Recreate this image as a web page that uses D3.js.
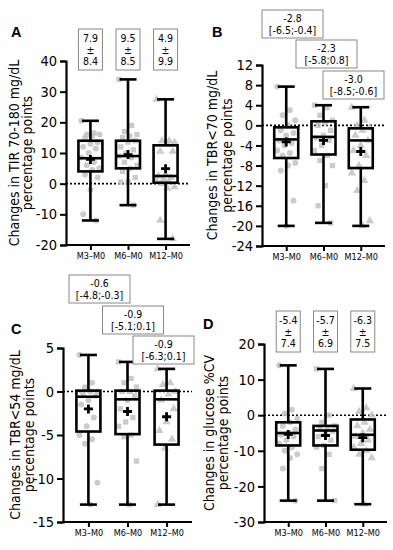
<!DOCTYPE html>
<html>
<head>
<meta charset="utf-8">
<script src="https://cdn.jsdelivr.net/npm/d3@7"></script>
<style>
  body { margin: 0; background: #fff; }
  svg { display: block; }
</style>
</head>
<body>
<div id="viz"></div>
<script>
// categories shared by every panel
var categories = ["M3\u2013M0", "M6\u2013M0", "M12\u2013M0"];

// box stats per category: [min, q1, median, q3, max, mean]
var tirBox   = [[-12, 4, 8.3, 14, 20.5, 7.9], [-7, 5, 9, 14, 34, 9.5], [-18, 0.3, 2.5, 12.5, 27.5, 4.9]];
var tbr70Box = [[-20, -6.5, -2.8, -0.4, 7.7, -3.3], [-19.4, -5.8, -2.3, 0.8, 4, -3.0], [-20, -8.5, -3.0, -0.6, 3.6, -5.2]];
var tbr54Box = [[-13, -4.6, -0.6, 0.1, 4.2, -2.0], [-13, -4.9, -0.9, 0.1, 3.4, -2.3], [-13, -6.1, -0.9, 0.1, 2.6, -2.9]];
var cvBox    = [[-24, -8.5, -5.0, -2.0, 14, -5.4], [-24, -8.5, -4.3, -3.0, 13, -5.7], [-25, -9.7, -5.5, -1.2, 7.5, -6.3]];

// individual points
var tirDots = [
  [20.5, 16.5, 16, 16, 15.5, 15, 13.5, 13, 12, 11.5, 10, 8.5, 7, 6, 5, 4.5, 3, 2, -2, -10, -12],
  [34, 19, 17, 16, 15.5, 15, 14, 13.5, 12, 11, 10, 9, 8.5, 7, 6, 5, 4, 2, 0.5, 0.5, -7],
  [27.5, 14, 14, 13.5, 13, 10.5, 10.5, 3, 2.5, 2, 1.5, 1, 0.5, 0, -1, -1.5, -12, -18]
];
var tbr70Dots = [
  [7.7, 3, 2, 1, 0, -1, -1.5, -2, -3, -3.5, -4, -5, -5.5, -6, -7.5, -8, -9, -15, -20],
  [4, 3.5, 2, 1, 0.5, 0, -1, -2, -2.5, -3, -4, -5, -6, -7, -8, -12, -16, -19.4],
  [3.6, 1, 0, -0.5, -1, -2, -3, -4, -5, -6, -8, -9.5, -11, -13, -19, -20]
];
var tbr54Dots = [
  [4.2, 1, 0.5, 0, 0, -0.2, -0.5, -1, -1.5, -3, -4, -5, -5.5, -6, -10.5, -13],
  [3.4, 1.5, 1, 0.5, 0, 0, -0.5, -1, -2, -3, -3.5, -4, -5, -5.2, -8, -13],
  [2.6, 1, 0.8, 0, -0.3, -1, -2, -3.5, -4.5, -5.5, -6.5, -13]
];
var cvDots = [
  [14, 1.5, 0.5, -1, -2, -3, -4, -5, -5.5, -6, -7, -8, -9, -10, -11, -12, -15, -24],
  [13, 0, -2, -3, -3.5, -4, -4.5, -5, -6, -7, -8.5, -9, -11, -15, -24],
  [7.5, 2, 1, 0, -2, -3, -4, -5, -6, -7, -8, -9, -10, -11, -12, -25]
];

// annotation texts above the boxes
var tirNotes   = [["7.9", "\u00b1", "8.4"], ["9.5", "\u00b1", "8.5"], ["4.9", "\u00b1", "9.9"]];
var tbr70Notes = [["-2.8", "[-6.5;-0.4]"], ["-2.3", "[-5.8;0.8]"], ["-3.0", "[-8.5;-0.6]"]];
var tbr54Notes = [["-0.6", "[-4.8;-0.3]"], ["-0.9", "[-5.1;0.1]"], ["-0.9", "[-6.3;0.1]"]];
var cvNotes    = [["-5.4", "\u00b1", "7.4"], ["-5.7", "\u00b1", "6.9"], ["-6.3", "\u00b1", "7.5"]];

// y tick values
var tirTicks   = [-20, -10, 0, 10, 20, 30, 40];
var tbr70Ticks = [-24, -20, -16, -12, -8, -4, 0, 4, 8, 12];
var tbr54Ticks = [-15, -10, -5, 0, 5];
var cvTicks    = [-30, -20, -10, 0, 10, 20];

var W = 393, H = 550;
var FONT = "DejaVu Sans Condensed, DejaVu Sans, sans-serif";
var svg = d3.select("#viz").append("svg")
  .attr("width", W).attr("height", H);

var shapes = [d3.symbolCircle, d3.symbolSquare, d3.symbolTriangle];

var panels = [
  {letter: "A", box: tirBox, dots: tirDots, notes: tirNotes, ticks: tirTicks,
   label: ["Changes in TIR 70-180 mg/dL", "percentage points"], labelX: [19, 32],
   left: 66, right: 190, top: 61, bottom: 245, letterX: 11, letterY: 37,
   noteMode: "sd", noteTop: 29},
  {letter: "B", box: tbr70Box, dots: tbr70Dots, notes: tbr70Notes, ticks: tbr70Ticks,
   label: ["Changes in TBR<70 mg/dL", "percentage points"], labelX: [217, 232],
   left: 262, right: 385, top: 65, bottom: 246, letterX: 212, letterY: 37,
   noteMode: "iqr", noteTops: [10, 40, 71], noteXs: [292.5, 326.5, 353.5]},
  {letter: "C", box: tbr54Box, dots: tbr54Dots, notes: tbr54Notes, ticks: tbr54Ticks,
   label: ["Changes in TBR<54 mg/dL", "percentage points"], labelX: [20, 34],
   left: 63, right: 192, top: 348, bottom: 522, letterX: 11, letterY: 334,
   noteMode: "iqr", noteTops: [275, 306, 336], noteXs: [99.5, 133, 163.5]},
  {letter: "D", box: cvBox, dots: cvDots, notes: cvNotes, ticks: cvTicks,
   label: ["Changes in glucose %CV", "percentage points"], labelX: [214, 228],
   left: 264, right: 387, top: 344, bottom: 522, letterX: 203, letterY: 329,
   noteMode: "sd", noteTop: 311}
];

panels.forEach(function(p) {
  var g = svg.append("g");
  var y = d3.scaleLinear()
    .domain(d3.extent(p.ticks))
    .range([p.bottom, p.top]);
  var x = d3.scalePoint()
    .domain(categories)
    .range([p.left, p.right])
    .padding(0.65);

  // zero line
  g.append("line")
    .attr("x1", p.left).attr("x2", p.right)
    .attr("y1", y(0)).attr("y2", y(0))
    .attr("stroke", "#000").attr("stroke-width", 1.6)
    .attr("stroke-dasharray", "2,2");

  // dots
  p.dots.forEach(function(vals, ci) {
    g.selectAll(null)
      .data(vals)
      .enter()
      .append("path")
        .attr("d", d3.symbol().type(shapes[ci]).size(ci === 2 ? 30 : 28))
        .attr("transform", function(d, i) {
          var jit = (((i * 7) % 11) - 5) / 5 * 9;
          return "translate(" + (x(categories[ci]) + jit) + "," + y(d) + ")";
        })
        .attr("fill", "#c2c2c2")
        .attr("opacity", 0.85);
  });

  // boxes
  var bw = 24, cw = 17;
  p.box.forEach(function(b, ci) {
    var cx = x(categories[ci]);
    var bg = g.append("g")
      .attr("stroke", "#000").attr("stroke-width", 2.6).attr("fill", "none");
    bg.append("line").attr("x1", cx).attr("x2", cx).attr("y1", y(b[4])).attr("y2", y(b[3]));
    bg.append("line").attr("x1", cx).attr("x2", cx).attr("y1", y(b[1])).attr("y2", y(b[0]));
    bg.append("line").attr("x1", cx - cw / 2).attr("x2", cx + cw / 2).attr("y1", y(b[4])).attr("y2", y(b[4]));
    bg.append("line").attr("x1", cx - cw / 2).attr("x2", cx + cw / 2).attr("y1", y(b[0])).attr("y2", y(b[0]));
    bg.append("rect")
      .attr("x", cx - bw / 2).attr("width", bw)
      .attr("y", y(b[3])).attr("height", y(b[1]) - y(b[3]));
    bg.append("line").attr("x1", cx - bw / 2).attr("x2", cx + bw / 2).attr("y1", y(b[2])).attr("y2", y(b[2]));
    // mean marker (+)
    var my = y(b[5]);
    bg.append("path")
      .attr("d", "M" + (cx - 4.5) + "," + my + "H" + (cx + 4.5) + "M" + cx + "," + (my - 4.5) + "V" + (my + 4.5))
      .attr("stroke-width", 2.8);
  });

  // axes
  var yAxis = g.append("g")
    .attr("transform", "translate(" + p.left + ",0)")
    .call(d3.axisLeft(y).tickValues(p.ticks).tickSize(6).tickPadding(3)
      .tickFormat(function(d) { return String(d); }));
  yAxis.select(".domain").attr("stroke-width", 2.2);
  yAxis.selectAll(".tick line").attr("stroke-width", 2);
  yAxis.selectAll("text")
    .attr("font-family", FONT)
    .attr("font-size", 14.5).attr("fill", "#000");

  var xAxis = g.append("g")
    .attr("transform", "translate(0," + p.bottom + ")")
    .call(d3.axisBottom(x).tickSize(5).tickSizeOuter(0).tickPadding(3));
  xAxis.select(".domain")
    .attr("d", "M" + p.left + ",0H" + p.right)
    .attr("stroke-width", 2.2);
  xAxis.selectAll(".tick line").attr("stroke-width", 2);
  xAxis.selectAll("text")
    .attr("font-family", FONT)
    .attr("font-size", 9).attr("fill", "#000");

  // y label
  var cy = (p.top + p.bottom) / 2;
  p.label.forEach(function(t, li) {
    g.append("text")
      .attr("transform", "translate(" + p.labelX[li] + "," + cy + ") rotate(-90)")
      .attr("text-anchor", "middle")
      .attr("font-family", FONT)
      .attr("font-size", 14)
      .text(t);
  });

  // panel letter
  g.append("text")
    .attr("x", p.letterX).attr("y", p.letterY)
    .attr("font-family", "Liberation Sans, Arial, sans-serif")
    .attr("font-weight", "bold").attr("font-size", 14.5)
    .text(p.letter);

  // annotation boxes
  p.notes.forEach(function(lines, ci) {
    var cx, nw, nh, ny, first, step, fs;
    if (p.noteMode === "sd") {
      cx = x(categories[ci]); nw = 24; nh = 41; ny = p.noteTop; first = 13; step = 11.5; fs = 9.5;
    } else {
      cx = p.noteXs[ci]; nw = 61; nh = 28; ny = p.noteTops[ci]; first = 11.5; step = 12.5; fs = 10.5;
    }
    var ng = g.append("g");
    ng.append("rect")
      .attr("x", cx - nw / 2).attr("y", ny)
      .attr("width", nw).attr("height", nh)
      .attr("fill", "#fff").attr("stroke", "#888").attr("stroke-width", 1);
    lines.forEach(function(t, li) {
      ng.append("text")
        .attr("x", cx).attr("y", ny + first + li * step)
        .attr("text-anchor", "middle")
        .attr("font-family", FONT)
        .attr("font-size", fs + (p.noteMode === "sd" ? 1 : 0))
        .text(t);
    });
  });
});
</script>
</body>
</html>
